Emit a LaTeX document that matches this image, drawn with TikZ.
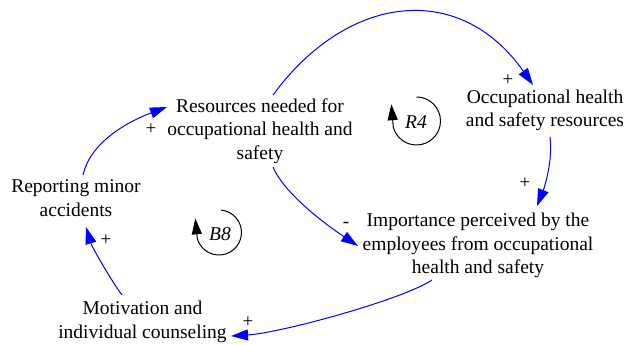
\documentclass[tikz,border=0pt]{standalone}
\usepackage{fontspec}
\setmainfont{Liberation Serif}
\usetikzlibrary{arrows.meta,calc}
\begin{document}
\begin{tikzpicture}[x=1pt,y=1pt,
  var/.style={align=center,inner sep=0pt,font=\fontsize{19.5}{23.5}\selectfont},
  link/.style={draw=blue,line width=1pt,-{Triangle[length=17pt,width=11pt]},fill=none},
  pol/.style={inner sep=0pt,font=\fontsize{19}{22}\selectfont},
  loopsym/.style={draw=black,line width=1pt,-{Triangle[length=16pt,width=10pt]}},
  looplabel/.style={inner sep=0pt,font=\itshape\fontsize{19.5}{23.5}\selectfont}]
\useasboundingbox (0,0) rectangle (626,345);

% variables
\node[var] (res) at (260,214) {Resources needed for\\occupational health and\\safety};
\node[var] (occ) at (545,234.5) {Occupational health\\and safety resources};
\node[var] (imp) at (478,99.5) {Importance perceived by the\\employees from occupational\\health and safety};
\node[var] (rep) at (76,147) {Reporting minor\\accidents};
\node[var] (mot) at (142.5,23) {Motivation and\\individual counseling};

% causal links
\draw[link] ($(rep)+(7,23)$) .. controls +(8,35) and +(-35,-13) .. ($(res)+(-93,24)$);
\draw[link] ($(res)+(13,36)$) .. controls +(75,102) and +(-73,104) .. ($(occ)+(-12,25.5)$);
\draw[link] ($(occ)+(5,-26.5)$) .. controls +(3,-22) and +(8,20) .. ($(imp)+(59,39.5)$);
\draw[link] ($(res)+(13,-36)$) .. controls +(12,-28) and +(-30,20) .. ($(imp)+(-120,-0.5)$);
\draw[link] ($(imp)+(-46,-34.5)$) .. controls +(-30,-20) and +(49,3) .. ($(mot)+(88.5,-14)$);
\draw[link] ($(mot)+(-20.5,27)$) .. controls +(-10,13) and +(6,-20) .. ($(rep)+(10,-29)$);

% polarities
\node[pol] (p1) at (151,216) {+};
\node[pol] (p2) at (508,265) {+};
\node[pol] (p3) at (525,162) {+};
\node[pol] (p4) at (346,120) {-};
\node[pol] (p5) at (248,23) {+};
\node[pol] (p6) at (106,105) {+};

% loop markers
\node[looplabel] (r4) at (416,223) {R4};
\draw[loopsym] (416.5,224) ++(90:24) arc[start angle=90,end angle=-165,radius=24] -- ++(-2,23);
\node[looplabel] (b8) at (220,111) {B8};
\draw[loopsym] (219,112.5) ++(85:22.5) arc[start angle=85,end angle=-165,radius=22.5] -- ++(-2,20);
\end{tikzpicture}
\end{document}
